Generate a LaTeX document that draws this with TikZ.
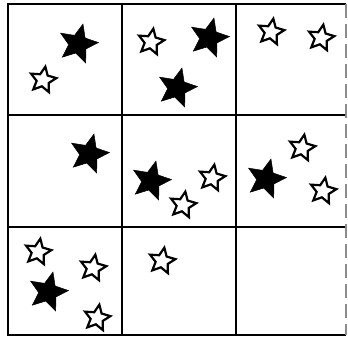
\documentclass[tikz,border=0pt]{standalone}
\usetikzlibrary{shapes.geometric}
\begin{document}
\begin{tikzpicture}[x=1pt,y=-1pt,
  gridline/.style={line width=2pt,black},
  edgeline/.style={line width=1.2pt,black!45,dash pattern=on 14pt off 6pt},
  fstar/.style={star,star points=5,star point ratio=2.2,minimum size=41pt,inner sep=0pt,draw=black,fill=black,line width=0.5pt,rotate=-14},
  ostar/.style={star,star points=5,star point ratio=2.1,minimum size=27pt,inner sep=0pt,draw=black,fill=white,line width=2.2pt,rotate=-10}]
\useasboundingbox (0,0) rectangle (348,340);
% grid
\coordinate (tl) at (8,4);
\coordinate (tr) at (346,4);
\coordinate (bl) at (8,335);
\coordinate (br) at (346,335);
\coordinate (v1t) at (122,4);
\coordinate (v1b) at (122,335);
\coordinate (v2t) at (236,4);
\coordinate (v2b) at (236,335);
\coordinate (h1l) at (8,115);
\coordinate (h1r) at (346,115);
\coordinate (h2l) at (8,227);
\coordinate (h2r) at (346,227);
\draw[gridline] (tr) -- (tl) -- (bl) -- (br);
\draw[gridline] (v1t) -- (v1b);
\draw[gridline] (v2t) -- (v2b);
\draw[gridline] (h1l) -- (h1r);
\draw[gridline] (h2l) -- (h2r);
\draw[edgeline] (tr) -- (br);
% row 1
\node[fstar] (s1) at (78,44) {};
\node[ostar] (s2) at (43,80) {};
\node[ostar] (s3) at (151,42) {};
\node[fstar] (s4) at (209,38) {};
\node[fstar] (s5) at (177,88) {};
\node[ostar] (s6) at (271,32) {};
\node[ostar] (s7) at (321,38) {};
% row 2
\node[fstar] (s8) at (89,154) {};
\node[fstar] (s9) at (151,181) {};
\node[ostar] (s10) at (183,205) {};
\node[ostar] (s11) at (212,178) {};
\node[fstar] (s12) at (266,179) {};
\node[ostar] (s13) at (302,148) {};
\node[ostar] (s14) at (323,191) {};
% row 3
\node[ostar] (s15) at (38,252) {};
\node[ostar] (s16) at (93,268) {};
\node[fstar] (s17) at (48,292) {};
\node[ostar] (s18) at (97,318) {};
\node[ostar] (s19) at (162,261) {};
\end{tikzpicture}
\end{document}
